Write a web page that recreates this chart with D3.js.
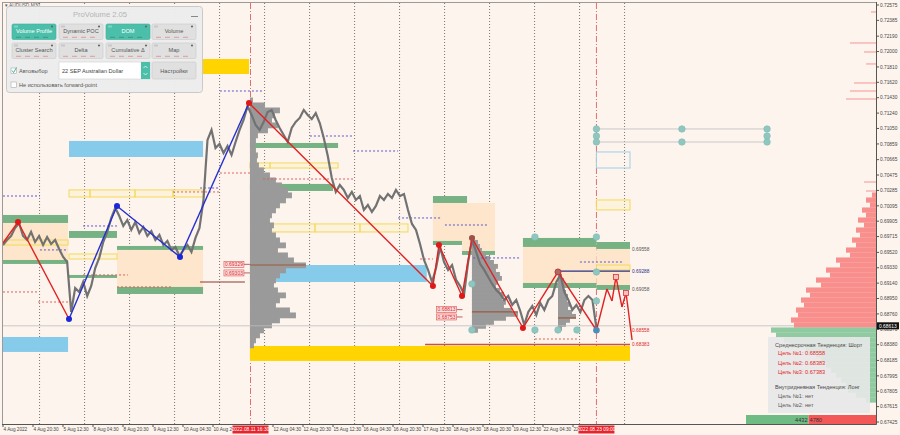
<!DOCTYPE html>
<html>
<head>
<meta charset="utf-8">
<script src="https://cdn.jsdelivr.net/npm/d3@7"></script>
<style>
  body { margin: 0; background: #fdf4ee; }
  svg { display: block; font-family: "Liberation Sans", Arial, sans-serif; }
</style>
</head>
<body>
<script>
// ---------- data ----------
const priceTicks = ["0.72575","0.72385","0.72190","0.72000","0.71810","0.71620","0.71430","0.71240","0.71050","0.70859",
  "0.70665","0.70475","0.70285","0.70095","0.69905","0.69715","0.69520","0.69330","0.69140","0.68950",
  "0.68760","0.68570","0.68380","0.68185","0.67995","0.67805","0.67615","0.67425"];
const currentPrice = 0.68613;

// trading hours since 4 Aug 04:30
const timeTickHours = [0,16,32,48,64,80,96,112,144,160,176,192,208,224,240,256,272,288,304];
const timeTickLabels = ["4 Aug 2022","4 Aug 20:30","5 Aug 12:30","8 Aug 04:30","8 Aug 20:30","9 Aug 12:30",
  "10 Aug 04:30","10 Aug 2","12 Aug 04:30","12 Aug 20:30","15 Aug 12:30","16 Aug 04:30","16 Aug 20:30",
  "17 Aug 12:30","18 Aug 04:30","18 Aug 20:30","19 Aug 12:30","22 Aug 04:30","22"];
const markerHours = [132, 316.5];
const markerLabels = ["2022.08.11 16:30", "2022.08.23 09:00"];
const daySeparators = [19.5,43.5,67.5,91.5,115.5,139.5,163.5,187.5,211.5,235.5,259.5,283.5,307.5,331.5];

// price path (closes) from 4 Aug to 23 Aug 09:00
const closes = [
  0.69611,0.69673,0.69722,0.69821,0.69883,0.69722,0.69673,0.69772,0.69648,0.69722,
  0.69611,0.69710,0.69624,0.69673,0.69562,0.69463,0.69401,0.68784,0.69080,0.69031,
  0.69154,0.68981,0.69105,0.69327,0.69451,0.69648,0.69772,0.69945,0.70068,0.69969,
  0.69846,0.69920,0.69797,0.69895,0.69759,0.69834,0.69722,0.69784,0.69673,0.69735,
  0.69611,0.69661,0.69550,0.69587,0.69475,0.69550,0.69611,0.69525,0.69698,0.69821,
  0.70167,0.70908,0.71032,0.70809,0.70859,0.70747,0.70834,0.70723,0.70883,0.71032,
  0.71155,0.71328,0.71217,0.71093,0.71032,0.71130,0.71254,0.71279,0.71155,0.71056,
  0.70970,0.70883,0.71056,0.71130,0.71180,0.71279,0.71217,0.71167,0.71241,0.71118,
  0.70933,0.70710,0.70439,0.70266,0.70352,0.70291,0.70192,0.70266,0.70167,0.70216,
  0.70044,0.70105,0.70019,0.70093,0.70216,0.70167,0.70241,0.70192,0.70291,0.70216,
  0.70241,0.70044,0.69871,0.69797,0.69624,0.69426,0.69303,0.69154,0.69327,0.69587,
  0.69401,0.69303,0.69364,0.69179,0.69105,0.69006,0.69401,0.69673,0.69525,0.69377,
  0.69303,0.69216,0.69130,0.69056,0.69006,0.68932,0.68981,0.68870,0.68932,0.68796,
  0.68623,0.68784,0.68858,0.68747,0.68895,0.68809,0.68932,0.68981,0.69154,0.69241,
  0.69031,0.68932,0.68809,0.68870,0.68784,0.68932,0.68981,0.68932,0.68586];
const lastBarHour = 316.5;

// zigzag
const zzHours  = [0, 8, 35.2, 60.8, 94.4, 131.2, 229.3, 232.5, 244.8, 250.1, 277.3, 296, 316.5, 322.1, 324.8, 326.9, 330.1, 332.3, 335.5];
const zzPrices = [0.69636,0.69895,0.68697,0.70093,0.69463,0.71365,0.69105,0.69611,0.68981,0.69698,0.68586,0.69278,0.68558,0.69068,0.68920,0.69216,0.68846,0.69018,0.68438];
const zzTrend  = ['S','S','L','L','L','S','S','S','S','S','S','S','S','S','S','S','S','S'];
const zzMarks  = ['','S','L','L','L','S','S','S','S','B','S','R','T','','','X','','X',''];

// zones: [hourFrom, hourTo, priceTop, priceBottom]
const greenZones = [
  [0,34.7,0.69982,0.69883],[0,34.7,0.69426,0.69377],[35.2,60.8,0.69784,0.69698],[35.2,60.8,0.69241,0.69204],
  [60.8,106.7,0.69599,0.69550],[60.8,106.7,0.69093,0.69006],[131.7,178.7,0.70871,0.70809],[131.7,176,0.70365,0.70278],
  [229.3,247.5,0.70216,0.70130],[229.3,244.8,0.69661,0.69611],[244.8,262.4,0.69537,0.69488],
  [277.3,316.5,0.69698,0.69587],[277.3,316.5,0.69142,0.69080],[316.5,334.4,0.69648,0.69562],[316.5,334.4,0.69117,0.69056]];
const orangeZones = [
  [0,34.7,0.69883,0.69426],[60.8,106.7,0.69550,0.69093],[229.3,262.4,0.70130,0.69661],[244.8,262.4,0.69661,0.69537],
  [277.3,316.5,0.69587,0.69142],[316.5,334.4,0.69562,0.69117]];
const blueZones = [[35.2,106.7,0.70896,0.70698],[0,34.7,0.68475,0.68290],[131.7,226,0.69364,0.69154]];
const blueOutlines = [[316.5,334.4,0.70760,0.70562]];
const yellowSolid = [[105.1,131.2,0.71908,0.71723],[131.7,334.4,0.68364,0.68179]];
const yellowOutlines = [
  [0,34.7,0.69673,0.69611],[35.2,60.8,0.69500,0.69438],
  [35.2,46.4,0.70291,0.70204],[46.4,70.4,0.70291,0.70204],[70.4,90.7,0.70291,0.70204],[90.7,106.7,0.70291,0.70204],
  [131.7,142.4,0.70624,0.70562],[142.4,178.7,0.70624,0.70562],
  [133.3,142.4,0.69871,0.69772],[142.4,166.4,0.69871,0.69772],[166.4,190.4,0.69871,0.69772],[190.4,216,0.69871,0.69772],
  [316.5,334.4,0.69364,0.69303],[316.5,334.4,0.70167,0.70044]];

// dotted levels: [hourFrom, hourTo, price]
const blueLevels = [[0,19.7,0.70216],[19.7,34.7,0.69550],[42.7,60.8,0.69846],[115.7,138.7,0.71513],[105.1,115.7,0.70315],
  [163.7,186.7,0.70957],[186.7,210.7,0.70772],[210.7,233.1,0.69945],[235.7,258.7,0.69858],[250.7,275.7,0.69451],[307.7,330.7,0.69401]];
const redLevels = [[0,18.7,0.69031],[18.7,34.7,0.68907],[42.7,66.7,0.69241],[60.8,90.7,0.69093],[90.7,115.7,0.70266],
  [115.7,131.7,0.70500],[138.7,186.7,0.70426],[222.4,229.3,0.69438],[283.7,306.7,0.68450]];
const navyLine = [296, 334.4, 0.69288];
const targetLine = [225.1, 334.4, 0.68383];
const pocPrev = [105.1, 129, 0.69154];

// teal anchor points: [hour, price]
const anchors = [[250.1,0.69130],[250.1,0.68561],[283.7,0.69710],[283.7,0.68561],[296,0.68561],[306.1,0.68561],
  [316.5,0.69710],[316.5,0.69278],[316.5,0.68920],
  [316.5,0.71044],[362.1,0.71044],[407.5,0.71044],[316.5,0.70957],[407.5,0.70957],[316.5,0.70883],[362.1,0.70883],[407.5,0.70883]];
const anchorLinks = [[316.5,407.5,0.71044],[316.5,407.5,0.70883]];

// volume profiles (rows from top price, fixed price step)
const profile1 = {hour:131.7, top:0.71402, step:0.0006175, poc:0.69364,
  vol:[3,15,30,25,22,28,18,8,6,5,6,8,7,9,14,20,26,32,38,42,36,30,26,22,20,24,22,26,30,36,28,38,44,56,36,30,26,24,28,36,30,26,40,46,30,22,14,10,6,4,0]};
const profile2 = {hour:250.1, top:0.69698, step:0.000494, poc:0.68784,
  vol:[3,6,8,10,14,18,22,26,24,28,30,26,24,28,32,30,34,32,40,46,34,22,14,6]};
const profile3 = {hour:296, top:0.69278, step:0.000494, poc:0.68710,
  vol:[2,4,6,8,6,8,10,9,12,10,14,18,12,8,4]};
const pocLabels1 = ["0.69329","0.69303"];
const pocLabels2 = ["0.68813","0.68753"];

// right market profile
const rightTop = 0.70229, rightStep = 0.0006175;
const rightSell = [4,10,6,14,10,18,12,20,16,24,20,30,26,40,36,50,46,60,55,70,66,75,72,80,78,85,82];
const rightBuy = [105,100,92,85,70,60,55,50,45,40,35,30,28,20,10];
const rightThin = [[0.72489,5],[0.72106,26],[0.71995,12],[0.71847,10],[0.71612,22],[0.71513,26],[0.71414,30],[0.70389,12],[0.70278,10]];
const totalBuy = 4432, totalSell = 4780;

const sideLabels = ["0.69558","0.69288","0.69058","0.68558","0.68383"];
const sideColors = ["#555","#2b2f8a","#555","#e02828","#e02828"];

const infoLines = ["Среднесрочная Тенденция: Шорт","Цель №1: 0.68558","Цель №2: 0.68383","Цель №3: 0.67383",
  "Внутридневная Тенденция: Лонг","Цель №1: нет","Цель №2: нет"];

// ---------- chart ----------
const W = 900, H = 435;
const x = d3.scaleLinear().domain([0, 465.6]).range([3, 876]);
const y = d3.scaleLinear().domain([0.67425, 0.72575]).range([422, 5]);
const xBar = d3.scaleLinear().domain([0, closes.length - 1]).range([x(0), x(lastBarHour)]);
const vol = d3.scaleLinear().domain([0, 100]).range([0, 100]);

const svg = d3.select('body').append('svg').attr('width', W).attr('height', H);
svg.append('rect').attr('width', W).attr('height', H).attr('fill', '#fdf4ee');

const plot = svg.append('g');

// separators
plot.selectAll('.sep').data(daySeparators).join('line')
  .attr('x1', d => x(d)).attr('x2', d => x(d)).attr('y1', 3).attr('y2', 424)
  .attr('stroke', '#777').attr('stroke-dasharray', '1,2');
plot.selectAll('.mk').data(markerHours).join('line')
  .attr('x1', d => x(d)).attr('x2', d => x(d)).attr('y1', 3).attr('y2', 424)
  .attr('stroke', '#e07070').attr('stroke-dasharray', '6,2,1,2');

function zoneRects(data, fill, stroke) {
  plot.append('g').selectAll('rect').data(data).join('rect')
    .attr('x', d => x(d[0])).attr('width', d => x(d[1]) - x(d[0]))
    .attr('y', d => y(d[2])).attr('height', d => y(d[3]) - y(d[2]))
    .attr('fill', fill).attr('stroke', stroke || 'none').attr('stroke-width', 1);
}
zoneRects(orangeZones, '#fde6cb');
zoneRects(blueZones, '#86cbea');
zoneRects(blueOutlines, 'none', '#9fcfe6');
zoneRects(yellowSolid, '#ffd400');
zoneRects(greenZones, '#77b285');
zoneRects(yellowOutlines, 'rgba(255,240,170,0.25)', '#f3d958');

// volume profiles
function profile(p) {
  const rowPx = y(0.67425) - y(0.67425 + p.step);
  const g = plot.append('g');
  g.selectAll('rect').data(p.vol).join('rect')
    .attr('x', x(p.hour)).attr('y', (d, i) => y(p.top - i * p.step) - rowPx / 2)
    .attr('width', d => vol(d)).attr('height', rowPx + 0.8)
    .attr('fill', '#9a9a9a');
  const pv = d3.max(p.vol);
  g.append('line').attr('x1', x(p.hour)).attr('x2', x(p.hour) + vol(pv))
    .attr('y1', y(p.poc)).attr('y2', y(p.poc)).attr('stroke', '#9b5a3c').attr('stroke-width', 1.2);
}
profile(profile1); profile(profile2); profile(profile3);

// dotted levels
function levels(data, color) {
  plot.append('g').selectAll('line').data(data).join('line')
    .attr('x1', d => x(d[0])).attr('x2', d => x(d[1]))
    .attr('y1', d => y(d[2])).attr('y2', d => y(d[2]))
    .attr('stroke', color).attr('stroke-dasharray', '2,2');
}
levels(blueLevels, '#5a5ad0');
levels(redLevels, '#dd6060');

plot.append('line').attr('x1', x(navyLine[0])).attr('x2', x(navyLine[1]))
  .attr('y1', y(navyLine[2])).attr('y2', y(navyLine[2])).attr('stroke', '#2b2f8a').attr('stroke-width', 1.3);
plot.append('line').attr('x1', x(targetLine[0])).attr('x2', x(targetLine[1]))
  .attr('y1', y(targetLine[2])).attr('y2', y(targetLine[2])).attr('stroke', '#d2502a').attr('stroke-width', 1.5);
plot.append('line').attr('x1', x(pocPrev[0])).attr('x2', x(pocPrev[1]))
  .attr('y1', y(pocPrev[2])).attr('y2', y(pocPrev[2])).attr('stroke', '#8b3a2a').attr('stroke-width', 1.2);

// current price line
plot.append('line').attr('x1', 3).attr('x2', 876).attr('y1', y(currentPrice)).attr('y2', y(currentPrice))
  .attr('stroke', '#bdbdbd').attr('stroke-width', 0.8);

// anchor links
plot.append('g').selectAll('line').data(anchorLinks).join('line')
  .attr('x1', d => x(d[0])).attr('x2', d => x(d[1])).attr('y1', d => y(d[2])).attr('y2', d => y(d[2]))
  .attr('stroke', '#c8c8c8');

// price path
plot.append('path').datum(closes)
  .attr('d', d3.line().x((d, i) => xBar(i)).y(d => y(d)))
  .attr('fill', 'none').attr('stroke', '#727272').attr('stroke-width', 2.2).attr('stroke-linejoin', 'miter');

// zigzag
const zzColor = t => t === 'L' ? '#2430d0' : '#e02222';
plot.append('g').selectAll('line').data(zzTrend).join('line')
  .attr('x1', (d, i) => x(zzHours[i])).attr('y1', (d, i) => y(zzPrices[i]))
  .attr('x2', (d, i) => x(zzHours[i + 1])).attr('y2', (d, i) => y(zzPrices[i + 1]))
  .attr('stroke', d => zzColor(d)).attr('stroke-width', 1.4);

const markG = plot.append('g');
zzMarks.forEach((m, i) => {
  const cx = x(zzHours[i]), cy = y(zzPrices[i]);
  if (m === 'S' || m === 'L' || m === 'B') {
    markG.append('circle').attr('cx', cx).attr('cy', cy).attr('r', 3)
      .attr('fill', m === 'S' ? '#e01818' : m === 'L' ? '#1a28d8' : '#a0504a');
  } else if (m === 'R') {
    markG.append('circle').attr('cx', cx).attr('cy', cy).attr('r', 3).attr('fill', '#a86a6a').attr('stroke', '#c33');
  } else if (m === 'X') {
    markG.append('rect').attr('x', cx - 2.5).attr('y', cy - 2.5).attr('width', 5).attr('height', 5)
      .attr('fill', '#f6c0c0').attr('stroke', '#d33').attr('stroke-width', 0.8);
  }
});

// anchors
plot.append('g').selectAll('circle').data(anchors).join('circle')
  .attr('cx', d => x(d[0])).attr('cy', d => y(d[1])).attr('r', 3.3)
  .attr('fill', '#8fc7c0').attr('stroke', '#7ab8b0').attr('stroke-width', 0.5);
plot.append('circle').attr('cx', x(zzHours[12])).attr('cy', y(zzPrices[12])).attr('r', 3.3).attr('fill', '#4b8fb8');

// poc labels
function pocLabel(text, hx, py, dy) {
  const g = plot.append('g');
  const lx = x(hx) - 26, ly = y(py) + dy;
  g.append('line').attr('x1', lx + 20).attr('x2', x(hx)).attr('y1', ly).attr('y2', ly).attr('stroke', '#a04040').attr('stroke-width', 0.8);
  g.append('rect').attr('x', lx).attr('y', ly - 3).attr('width', 20).attr('height', 6)
    .attr('fill', '#fbe3e3').attr('stroke', '#e05050').attr('stroke-width', 0.6);
  g.append('text').attr('x', lx + 10).attr('y', ly + 1.8).attr('text-anchor', 'middle')
    .attr('font-size', 5).attr('fill', '#e02828').text(text);
}
pocLabel(pocLabels1[0], profile1.hour, +pocLabels1[0], -3.5);
pocLabel(pocLabels1[1], profile1.hour, +pocLabels1[1], 3);
pocLabel(pocLabels2[0], profile2.hour - 5, +pocLabels2[0], 0);
pocLabel(pocLabels2[1], profile2.hour - 5, +pocLabels2[1], 2.5);

// side labels
plot.append('g').selectAll('text').data(sideLabels).join('text')
  .attr('x', x(335.5)).attr('y', d => y(+d) + 1.7)
  .attr('font-size', 4.8).attr('fill', (d, i) => sideColors[i]).text(d => d);

// right market profile
const rowR = y(0.67425) - y(0.67425 + rightStep);
const rg = svg.append('g');
rg.selectAll('.s').data(rightSell).join('rect')
  .attr('x', d => 876 - vol(d)).attr('y', (d, i) => y(rightTop - i * rightStep) - rowR / 2)
  .attr('width', d => vol(d)).attr('height', rowR + 0.2).attr('fill', '#f98f8c');
rg.selectAll('.b').data(rightBuy).join('rect')
  .attr('x', d => 876 - vol(d)).attr('y', (d, i) => y(rightTop - (i + rightSell.length) * rightStep) - rowR / 2)
  .attr('width', d => vol(d)).attr('height', rowR + 0.2).attr('fill', '#8fcaa0');
rg.selectAll('.t').data(rightThin).join('rect')
  .attr('x', d => 876 - vol(d[1])).attr('y', d => y(d[0]) - 0.6)
  .attr('width', d => vol(d[1])).attr('height', 1.2).attr('fill', '#f7a5a2');

// info box
const ib = svg.append('g');
ib.append('rect').attr('x', 768).attr('y', 337).attr('width', 102).attr('height', 76)
  .attr('fill', 'rgba(232,232,232,0.9)');
const infoY = [344.5, 353, 362.5, 372, 386.5, 395.5, 404.5];
const infoX = [775, 778, 778, 778, 775, 778, 778];
const infoC = ['#4a4a4a', '#e02828', '#e02828', '#e02828', '#4a4a4a', '#5a5a5a', '#5a5a5a'];
ib.selectAll('text').data(infoLines).join('text')
  .attr('x', (d, i) => infoX[i]).attr('y', (d, i) => infoY[i] + 2)
  .attr('font-size', 5.6).attr('fill', (d, i) => infoC[i]).text(d => d);

// total volume bar
const tv = d3.scaleLinear().domain([0, totalBuy + totalSell]).range([0, 130]);
svg.append('rect').attr('x', 876 - tv(totalBuy + totalSell)).attr('y', 415).attr('width', tv(totalBuy)).attr('height', 9).attr('fill', '#6fbb84');
svg.append('rect').attr('x', 876 - tv(totalSell)).attr('y', 415).attr('width', tv(totalSell)).attr('height', 9).attr('fill', '#f25858');
svg.append('text').attr('x', 876 - tv(totalSell) - 1).attr('y', 421.5).attr('text-anchor', 'end').attr('font-size', 5.6).attr('fill', '#333').text(totalBuy);
svg.append('text').attr('x', 876 - tv(totalSell) + 1).attr('y', 421.5).attr('font-size', 5.6).attr('fill', '#333').text(totalSell);

// frame and axes
svg.append('line').attr('x1', 2).attr('x2', 876).attr('y1', 2.5).attr('y2', 2.5).attr('stroke', '#9a9a9a');
svg.append('line').attr('x1', 2.5).attr('x2', 2.5).attr('y1', 2).attr('y2', 424).attr('stroke', '#9a9a9a');
svg.append('line').attr('x1', 876.5).attr('x2', 876.5).attr('y1', 2).attr('y2', 424.5).attr('stroke', '#555');
svg.append('line').attr('x1', 2).attr('x2', 876.5).attr('y1', 424.5).attr('y2', 424.5).attr('stroke', '#555');

const yAxis = svg.append('g');
yAxis.selectAll('line').data(priceTicks).join('line')
  .attr('x1', 876).attr('x2', 879).attr('y1', d => y(+d)).attr('y2', d => y(+d)).attr('stroke', '#555');
yAxis.selectAll('text').data(priceTicks).join('text')
  .attr('x', 880).attr('y', d => y(+d) + 1.7).attr('font-size', 4.8).attr('fill', '#444').text(d => d);
// current price tag
yAxis.append('rect').attr('x', 877).attr('y', y(currentPrice) - 3.5).attr('width', 22).attr('height', 7).attr('fill', '#111');
yAxis.append('text').attr('x', 879).attr('y', y(currentPrice) + 1.8).attr('font-size', 4.9).attr('fill', '#fff').text(currentPrice.toFixed(5));

const xAxis = svg.append('g');
xAxis.selectAll('line').data(timeTickHours).join('line')
  .attr('x1', d => x(d)).attr('x2', d => x(d)).attr('y1', 424).attr('y2', 427).attr('stroke', '#555');
xAxis.selectAll('text').data(timeTickHours).join('text')
  .attr('x', d => x(d) + 0.5).attr('y', 431).attr('font-size', 4.7).attr('fill', '#444')
  .text((d, i) => timeTickLabels[i]);
markerHours.forEach((h, i) => {
  xAxis.append('rect').attr('x', x(h) - 18).attr('y', 425.5).attr('width', 36).attr('height', 8).attr('fill', '#e8232b');
  xAxis.append('text').attr('x', x(h)).attr('y', 431.3).attr('text-anchor', 'middle').attr('font-size', 4.9)
    .attr('fill', '#fff').text(markerLabels[i]);
});

svg.append('text').attr('x', 5).attr('y', 6.5).attr('font-size', 4.8).attr('fill', '#555').text('\u25BE AUDUSD,M30');

// ProVolume panel
const pn = svg.append('g');
pn.append('rect').attr('x', 6.5).attr('y', 6.5).attr('width', 196).attr('height', 86).attr('rx', 3)
  .attr('fill', 'rgba(236,236,236,0.96)').attr('stroke', '#c9c9c9');
pn.append('text').attr('x', 100).attr('y', 17).attr('text-anchor', 'middle').attr('font-size', 7.6)
  .attr('fill', '#b4b4b4').text('ProVolume 2.05');
pn.append('line').attr('x1', 191).attr('x2', 198).attr('y1', 16.5).attr('y2', 16.5).attr('stroke', '#888');
const buttons = [
  ['Volume Profile', 12, 24, true], ['Dynamic POC', 59, 24, false], ['DOM', 106, 24, true], ['Volume', 152, 24, false],
  ['Cluster Search', 12, 43, false], ['Delta', 59, 43, false], ['Cumulative \u0394', 106, 43, false], ['Map', 152, 43, false]];
buttons.forEach(b => {
  const g = pn.append('g');
  g.append('rect').attr('x', b[1]).attr('y', b[2]).attr('width', 44).attr('height', 15.5).attr('rx', 1.5)
    .attr('fill', b[3] ? '#4cbfab' : '#e0e0e0').attr('stroke', b[3] ? '#3fae9b' : '#cacaca').attr('stroke-width', 0.6);
  g.append('text').attr('x', b[1] + 22).attr('y', b[2] + 9).attr('text-anchor', 'middle').attr('font-size', 5.6)
    .attr('fill', b[3] ? '#fff' : '#555').text(b[0]);
  g.append('circle').attr('cx', b[1] + 40).attr('cy', b[2] + 2.5).attr('r', 1.1).attr('fill', '#666');
  g.append('rect').attr('x', b[1] + 2).attr('y', b[2] + 1.5).attr('width', 4).attr('height', 2)
    .attr('fill', b[3] ? '#7fd3c3' : '#c8c8c8');
  g.append('line').attr('x1', b[1] + 4).attr('x2', b[1] + 40).attr('y1', b[2] + 13.3).attr('y2', b[2] + 13.3)
    .attr('stroke', b[3] ? '#3a8d80' : '#d98b8b').attr('stroke-width', 0.8).attr('stroke-dasharray', '5,4');
});
pn.append('rect').attr('x', 11).attr('y', 68).attr('width', 5.5).attr('height', 5.5).attr('fill', '#fff').attr('stroke', '#aaa').attr('stroke-width', 0.6);
pn.append('path').attr('d', 'M12,70.5 L13.6,72.6 L16.5,67.5').attr('fill', 'none').attr('stroke', '#3aa896').attr('stroke-width', 0.9);
pn.append('text').attr('x', 19).attr('y', 73).attr('font-size', 5.6).attr('fill', '#555').text('Автовыбор');
pn.append('rect').attr('x', 59).attr('y', 62).attr('width', 91).attr('height', 17).attr('fill', '#fff').attr('stroke', '#d0d0d0').attr('stroke-width', 0.6);
pn.append('text').attr('x', 62).attr('y', 72.5).attr('font-size', 5.6).attr('fill', '#444').text('22 SEP Australian Dollar');
pn.append('rect').attr('x', 141).attr('y', 62).attr('width', 9).attr('height', 17).attr('fill', '#4cbfab');
pn.append('path').attr('d', 'M143.5,68 L145.5,66 L147.5,68 M143.5,73 L145.5,75 L147.5,73').attr('fill', 'none').attr('stroke', '#fff').attr('stroke-width', 0.7);
pn.append('rect').attr('x', 152).attr('y', 62).attr('width', 44).attr('height', 17).attr('rx', 1.5).attr('fill', '#e0e0e0').attr('stroke', '#cacaca').attr('stroke-width', 0.6);
pn.append('text').attr('x', 174).attr('y', 72.5).attr('text-anchor', 'middle').attr('font-size', 5.6).attr('fill', '#555').text('Настройки');
pn.append('rect').attr('x', 11).attr('y', 82).attr('width', 5.5).attr('height', 5.5).attr('fill', '#fff').attr('stroke', '#aaa').attr('stroke-width', 0.6);
pn.append('text').attr('x', 19).attr('y', 87).attr('font-size', 5.6).attr('fill', '#555').text('Не использовать forward-point');
</script>
</body>
</html>
